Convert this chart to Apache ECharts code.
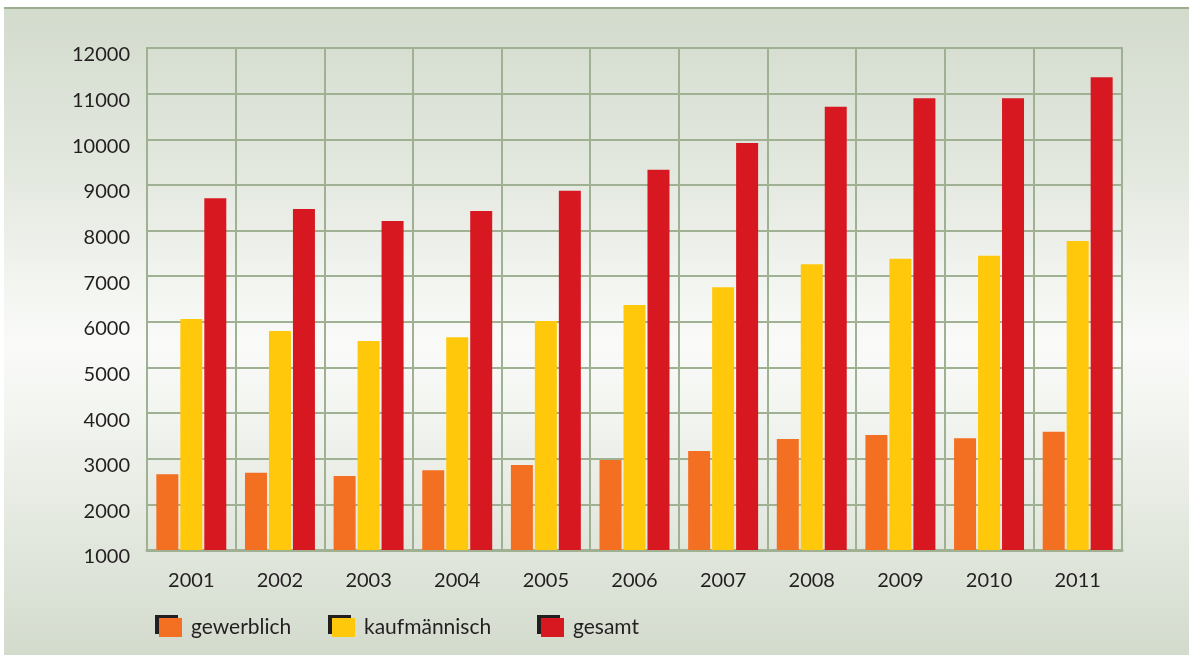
<!DOCTYPE html>
<html>
<head>
<meta charset="utf-8">
<script src="https://cdn.jsdelivr.net/npm/echarts@6/dist/echarts.min.js"></script>
<style>
  html, body { margin: 0; padding: 0; background: #ffffff; width: 1189px; height: 655px; overflow: hidden; }
  #bg { position: absolute; left: 4px; top: 7px; right: 0; bottom: 0;
        border-top: 2px solid #9dae90;
        background: linear-gradient(to bottom, #d3dbcd 0%, #e3e8df 25%, #fafbf9 52%, #eef1eb 68%, #d3dbcd 100%); }
  #chart { position: absolute; left: 0; top: 0; width: 1189px; height: 655px; }
</style>
</head>
<body>
<div id="bg"></div>
<div id="chart"></div>
<script>
const categories = ['2001', '2002', '2003', '2004', '2005', '2006', '2007', '2008', '2009', '2010', '2011'];
const gewerblich = [2660, 2690, 2620, 2750, 2860, 2970, 3170, 3430, 3520, 3450, 3590];
const kaufmaennisch = [6060, 5800, 5580, 5660, 6020, 6370, 6760, 7260, 7380, 7450, 7770];
const gesamt = [8710, 8470, 8210, 8430, 8870, 9330, 9920, 10710, 10900, 10900, 11360];
const seriesNames = ['gewerblich', 'kaufmännisch', 'gesamt'];
const yTicks = { min: 1000, max: 12000, interval: 1000 };

const colors = ['#f36f21', '#ffc80b', '#d71820'];
const gridColor = '#9fb093';
const textColor = '#231f20';
const fontFamily = 'Lato, "Open Sans", sans-serif';

const chart = echarts.init(document.getElementById('chart'), null, { renderer: 'canvas' });

function legendAt(name, left) {
  return {
    data: [name],
    left: left,
    top: 617,
    padding: 0,
    icon: 'rect',
    itemWidth: 23,
    itemHeight: 19,
    selectedMode: false,
    itemStyle: { shadowColor: '#231f20', shadowOffsetX: -4, shadowOffsetY: -3, shadowBlur: 0 },
    textStyle: { color: textColor, fontSize: 21, fontFamily: fontFamily, padding: [0, 0, 0, 4] }
  };
}

const option = {
  backgroundColor: 'transparent',
  animation: false,
  color: colors,
  grid: { left: 147, right: 67, top: 48, bottom: 105, show: true, borderColor: gridColor, borderWidth: 2, backgroundColor: 'transparent' },
  legend: [
    legendAt(seriesNames[0], 159),
    legendAt(seriesNames[1], 332),
    legendAt(seriesNames[2], 541)
  ],
  xAxis: {
    type: 'category',
    data: categories,
    boundaryGap: true,
    axisLine: { show: true, lineStyle: { color: gridColor, width: 3 } },
    axisTick: { show: false },
    splitLine: { show: true, lineStyle: { color: gridColor, width: 2 } },
    axisLabel: { color: textColor, fontSize: 20, fontFamily: fontFamily, margin: 21 }
  },
  yAxis: {
    type: 'value',
    min: yTicks.min,
    max: yTicks.max,
    interval: yTicks.interval,
    axisLine: { show: true, lineStyle: { color: gridColor, width: 2 } },
    axisTick: { show: false },
    splitLine: { show: true, lineStyle: { color: gridColor, width: 2 } },
    axisLabel: {
      color: textColor, fontSize: 20, fontFamily: fontFamily, margin: 17,
      verticalAlign: 'top', lineHeight: 14,
      formatter: function (v) { return String(v); }
    }
  },
  series: [
    { name: seriesNames[0], type: 'bar', data: gewerblich, barWidth: 22, barGap: '9%', itemStyle: { color: colors[0] } },
    { name: seriesNames[1], type: 'bar', data: kaufmaennisch, barWidth: 22, barGap: '9%', itemStyle: { color: colors[1] } },
    { name: seriesNames[2], type: 'bar', data: gesamt, barWidth: 22, barGap: '9%', itemStyle: { color: colors[2] } }
  ]
};
chart.setOption(option);
</script>
</body>
</html>
